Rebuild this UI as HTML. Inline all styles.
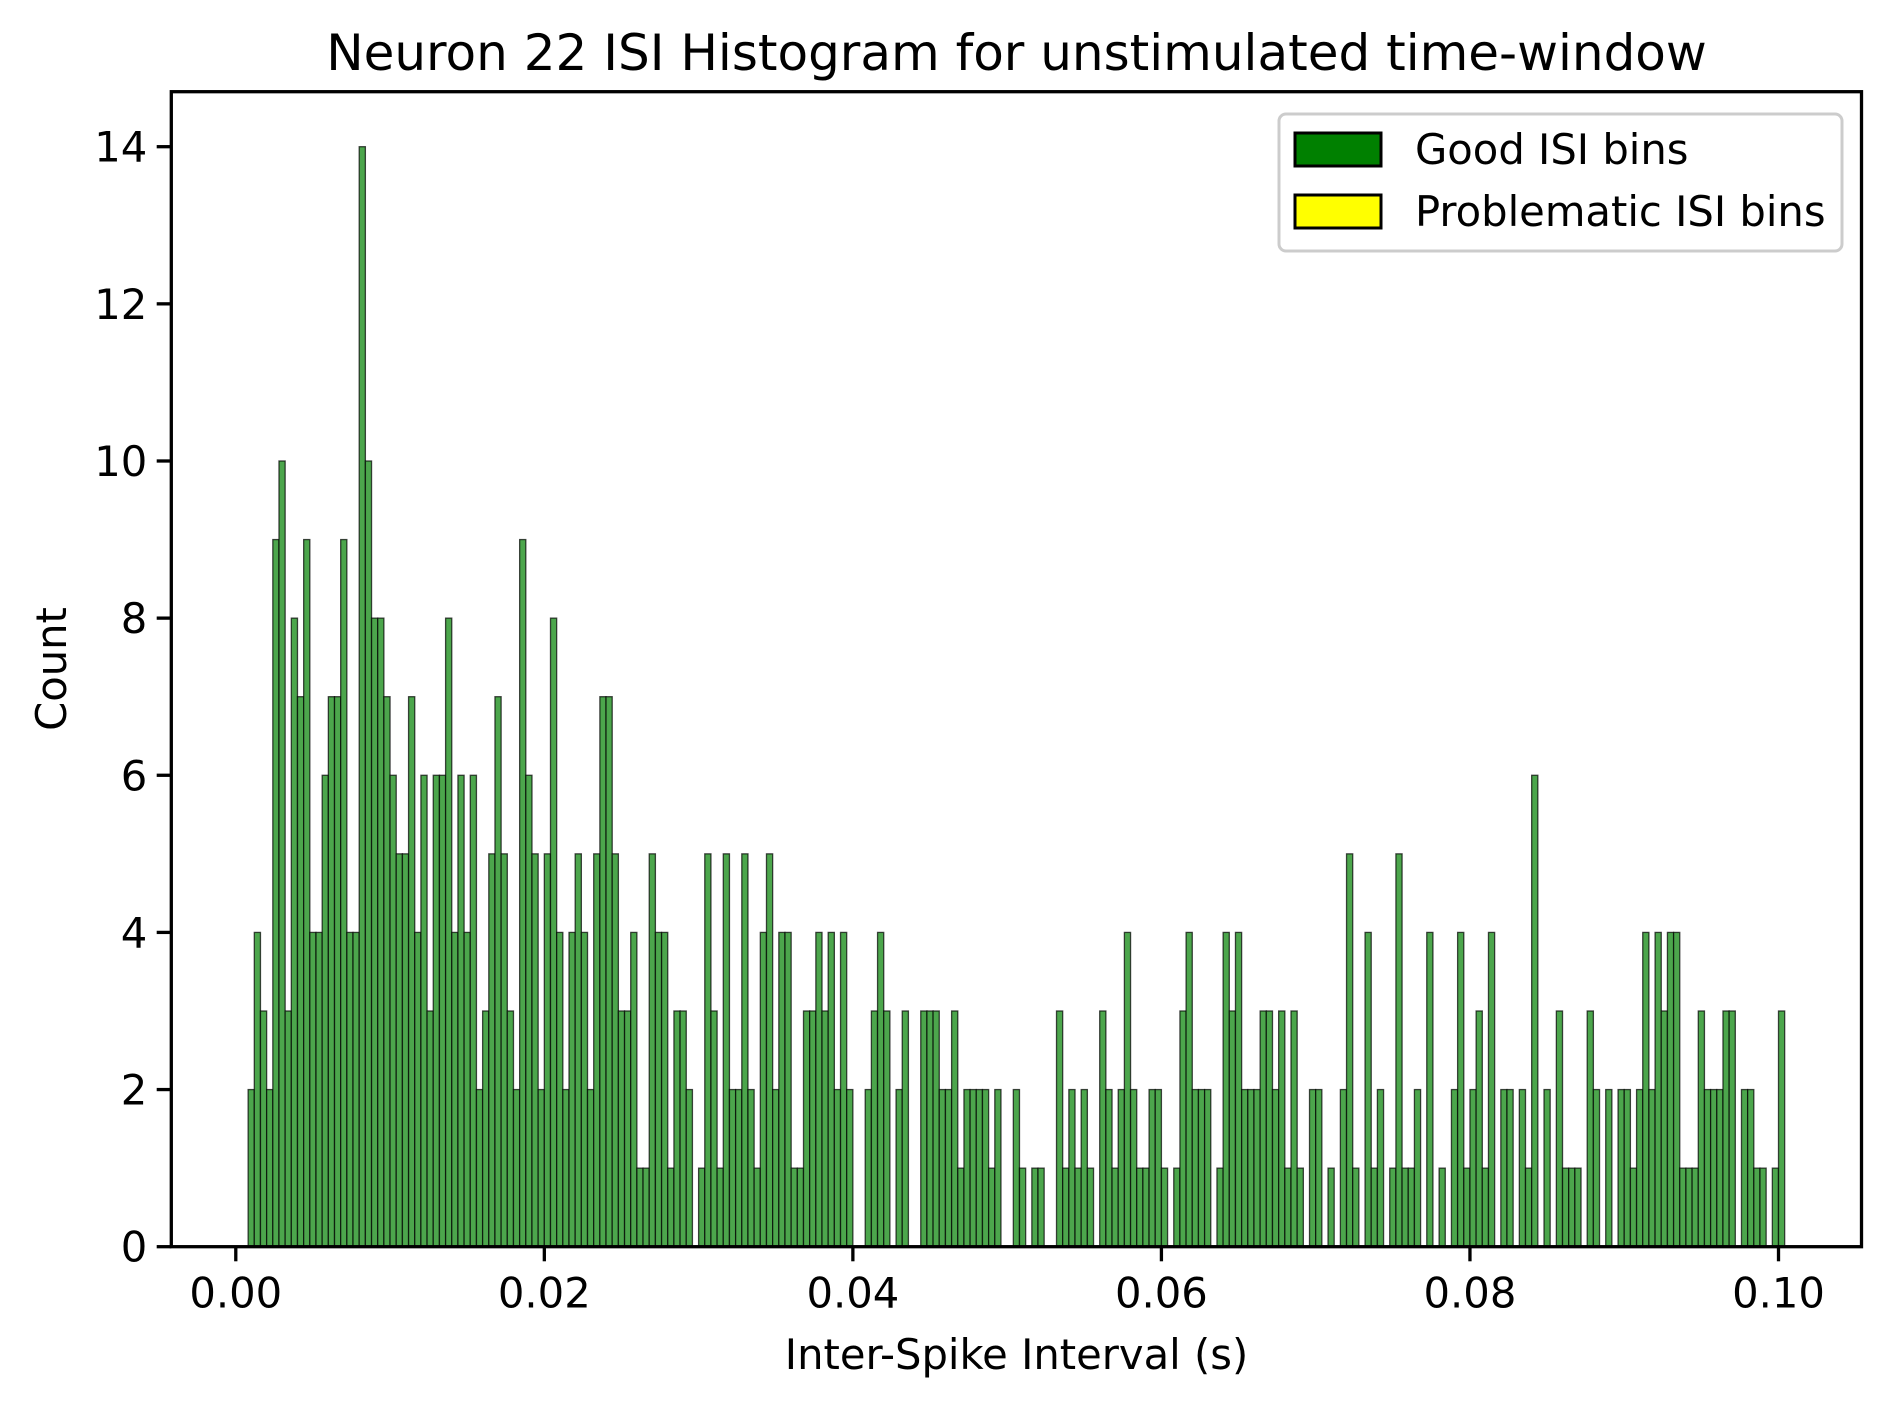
<!DOCTYPE html>
<html><head><meta charset="utf-8"><style>
html,body{margin:0;padding:0;background:#fff;}
svg{display:block;font-family:"DejaVu Sans","Liberation Sans",sans-serif;}
</style></head><body>
<svg id="chart" width="1890" height="1406" viewBox="0 0 1890 1406" xmlns="http://www.w3.org/2000/svg">
<rect width="1890" height="1406" fill="#fff"/>
<g id="bars"></g>
<g id="axes"></g>
<text x="1016.5" y="70" text-anchor="middle" font-size="50" fill="#000">Neuron 22 ISI Histogram for unstimulated time-window</text>
<text x="1016.5" y="1369" text-anchor="middle" font-size="41.7" fill="#000">Inter-Spike Interval (s)</text>
<text x="0" y="0" transform="translate(66,669) rotate(-90)" text-anchor="middle" font-size="41.7" fill="#000">Count</text>
<g>
<rect x="1279" y="114" width="563" height="137" rx="7" fill="#fff" fill-opacity="0.8" stroke="#cccccc" stroke-width="3"/>
<g>
<rect x="1295" y="133" width="86" height="33" fill="#008000" stroke="#000" stroke-width="3"/>
<text x="1415" y="164" font-size="41.7" fill="#000">Good ISI bins</text>
</g>
<g>
<rect x="1295" y="195" width="86" height="33" fill="#ffff00" stroke="#000" stroke-width="3"/>
<text x="1415" y="226" font-size="41.7" fill="#000">Problematic ISI bins</text>
</g>
</g>
</svg>
<script>
const binStart = 0.0008;
const binWidth = 0.0004;
const counts = [
2,4,3,2,9,10,3,8,7,9,4,4,6,7,7,9,4,4,14,10,8,8,7,
6,5,5,7,4,6,3,6,6,8,4,6,4,6,2,3,5,7,5,3,2,9,
6,5,2,5,8,4,2,4,5,4,2,5,7,7,5,3,3,4,1,1,5,4,4,1,
3,3,2,0,1,5,3,1,5,2,2,5,2,1,4,5,2,4,4,1,1,3,3,4,
3,4,2,4,2,0,0,2,3,4,3,0,2,3,0,0,3,3,3,2,2,3,1,2,
2,2,2,1,2,0,0,2,1,0,1,1,0,0,3,1,2,1,2,1,0,3,2,1,
2,4,2,1,1,2,2,1,0,1,3,4,2,2,2,0,1,4,3,4,2,2,2,3,
3,2,3,1,3,1,0,2,2,0,1,0,2,5,1,0,4,1,2,0,1,5,1,1,
2,0,4,0,1,0,2,4,1,2,3,1,4,0,2,2,0,2,1,6,0,2,0,3,
1,1,1,0,3,2,0,2,0,2,2,1,2,4,2,4,3,4,4,1,1,1,3,2,
2,2,3,3,0,2,2,1,1,0,1,3
];
const xTicks = [0.00,0.02,0.04,0.06,0.08,0.10];
const xTickLabels = ["0.00","0.02","0.04","0.06","0.08","0.10"];
const yTicks = [0,2,4,6,8,10,12,14];
const yTickLabels = ["0","2","4","6","8","10","12","14"];

const NS = "http://www.w3.org/2000/svg";
const L = 171.3, R = 1861.5, T = 91.7, B = 1246.7;
const dataMin = binStart, dataMax = binStart + counts.length*binWidth;
const span = dataMax - dataMin;
const xMin = dataMin - 0.05*span, xMax = dataMax + 0.05*span;
const yMax = Math.max(...counts)*1.05;
function xs(v){ return L + (v - xMin)/(xMax - xMin)*(R - L); }
function ys(v){ return B - v/yMax*(B - T); }

const barsG = document.getElementById('bars');
counts.forEach((c,i)=>{
  if(c<=0) return;
  const x0 = xs(binStart + i*binWidth), x1 = xs(binStart + (i+1)*binWidth);
  const r = document.createElementNS(NS,'rect');
  r.setAttribute('x', x0); r.setAttribute('y', ys(c));
  r.setAttribute('width', x1-x0); r.setAttribute('height', ys(0)-ys(c));
  r.setAttribute('fill', '#4ca64c');
  r.setAttribute('stroke', '#000'); r.setAttribute('stroke-opacity','0.7'); r.setAttribute('stroke-width','1.3');
  
  
  barsG.appendChild(r);
});

const ax = document.getElementById('axes');
const frame = document.createElementNS(NS,'rect');
frame.setAttribute('x',L); frame.setAttribute('y',T); frame.setAttribute('width',R-L); frame.setAttribute('height',B-T);
frame.setAttribute('fill','none'); frame.setAttribute('stroke','#000'); frame.setAttribute('stroke-width','3.3');


ax.appendChild(frame);

xTicks.forEach((v,i)=>{
  const x = xs(v);
  const l = document.createElementNS(NS,'line');
  l.setAttribute('x1',x); l.setAttribute('x2',x); l.setAttribute('y1',B); l.setAttribute('y2',B+14.6);
  l.setAttribute('stroke','#000'); l.setAttribute('stroke-width','3.3');
  
  
  ax.appendChild(l);
  const t = document.createElementNS(NS,'text');
  t.setAttribute('x',x); t.setAttribute('y',B+61); t.setAttribute('text-anchor','middle');
  t.setAttribute('font-size','41.7'); t.textContent = xTickLabels[i];
  
  
  ax.appendChild(t);
});
yTicks.forEach((v,i)=>{
  const y = ys(v);
  const l = document.createElementNS(NS,'line');
  l.setAttribute('x1',L-14.6); l.setAttribute('x2',L); l.setAttribute('y1',y); l.setAttribute('y2',y);
  l.setAttribute('stroke','#000'); l.setAttribute('stroke-width','3.3');
  
  
  ax.appendChild(l);
  const t = document.createElementNS(NS,'text');
  t.setAttribute('x',L-24); t.setAttribute('y',y+15); t.setAttribute('text-anchor','end');
  t.setAttribute('font-size','41.7'); t.textContent = yTickLabels[i];
  
  
  ax.appendChild(t);
});
</script>
</body></html>
